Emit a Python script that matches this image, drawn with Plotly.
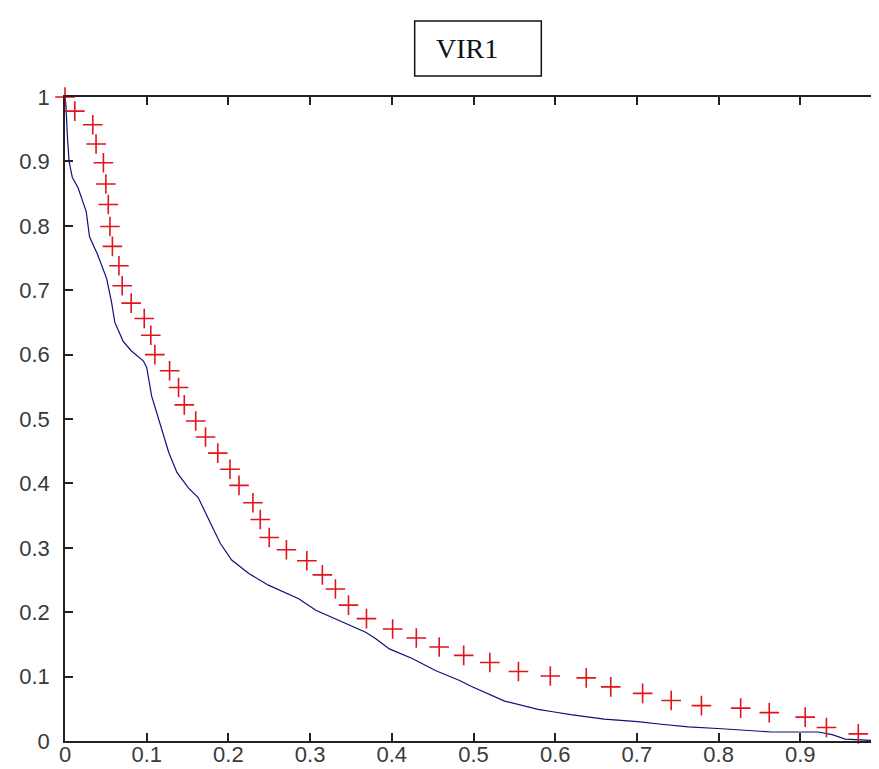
import plotly.graph_objects as go

# Red "+" markers
red_x = [0, 0.012, 0.034, 0.038, 0.047, 0.050, 0.053, 0.055, 0.058, 0.066,
         0.070, 0.081, 0.097, 0.105, 0.110, 0.128, 0.139, 0.146, 0.160, 0.172,
         0.187, 0.202, 0.213, 0.230, 0.239, 0.250, 0.271, 0.296, 0.315, 0.331,
         0.347, 0.369, 0.401, 0.430, 0.458, 0.488, 0.520, 0.555, 0.594, 0.638,
         0.668, 0.707, 0.742, 0.779, 0.827, 0.862, 0.906, 0.932, 0.971]
red_y = [1.0, 0.978, 0.957, 0.927, 0.898, 0.865, 0.833, 0.799, 0.768, 0.738,
         0.707, 0.680, 0.656, 0.630, 0.600, 0.575, 0.549, 0.522, 0.497, 0.472,
         0.447, 0.422, 0.397, 0.370, 0.344, 0.316, 0.297, 0.280, 0.258, 0.236,
         0.211, 0.190, 0.174, 0.160, 0.146, 0.133, 0.122, 0.108, 0.101, 0.098,
         0.084, 0.074, 0.063, 0.055, 0.051, 0.044, 0.037, 0.021, 0.011]

# Blue line
blue_x = [0, 0.001, 0.003, 0.005, 0.009, 0.016, 0.026, 0.030, 0.040, 0.051,
          0.057, 0.061, 0.071, 0.081, 0.096, 0.100, 0.106, 0.116, 0.127, 0.137,
          0.151, 0.163, 0.176, 0.190, 0.204, 0.225, 0.249, 0.286, 0.307, 0.331,
          0.368, 0.380, 0.397, 0.425, 0.454, 0.483, 0.497, 0.538, 0.579, 0.599,
          0.619, 0.660, 0.701, 0.730, 0.763, 0.804, 0.840, 0.865, 0.922, 0.939,
          0.955, 0.984, 1.0]
blue_y = [1.0, 0.99, 0.937, 0.900, 0.875, 0.859, 0.822, 0.783, 0.755, 0.718,
          0.681, 0.650, 0.621, 0.606, 0.590, 0.580, 0.536, 0.495, 0.448, 0.417,
          0.393, 0.378, 0.344, 0.307, 0.281, 0.260, 0.242, 0.221, 0.203, 0.190,
          0.169, 0.159, 0.143, 0.128, 0.109, 0.094, 0.085, 0.062, 0.049, 0.045,
          0.041, 0.034, 0.030, 0.026, 0.022, 0.019, 0.016, 0.014, 0.014, 0.010,
          0.003, 0.001, 0.0]

title_text = "VIR1"
tick_vals = [i / 10 for i in range(11)]
tick_text = ["0", "0.1", "0.2", "0.3", "0.4", "0.5", "0.6", "0.7", "0.8", "0.9", "1"]

fig = go.Figure()
fig.add_trace(go.Scatter(x=blue_x, y=blue_y, mode="lines",
                         line=dict(color="#10107a", width=1.2),
                         showlegend=False, cliponaxis=False))
fig.add_trace(go.Scatter(x=red_x, y=red_y, mode="markers",
                         marker=dict(symbol="cross-thin", size=14,
                                     line=dict(color="#e0141c", width=1.6)),
                         showlegend=False, cliponaxis=False))

axis_common = dict(
    range=[0, 1], tickmode="array", tickvals=tick_vals, ticktext=tick_text,
    showgrid=False, zeroline=False, showline=True, linecolor="#222",
    linewidth=1.5, mirror="ticks", ticks="inside", ticklen=8, tickwidth=1.5,
    tickcolor="#222", automargin=False, ticklabeloverflow="allow",
    tickfont=dict(family="Liberation Sans, Arial", size=22, color="#3a3a3a"),
)
fig.update_xaxes(**axis_common, ticklabelstandoff=-7)
fig.update_yaxes(**axis_common, ticklabelstandoff=9)

fig.add_shape(type="rect", xref="paper", yref="paper",
              x0=0.428, x1=0.583, y0=1.0326, y1=1.118,
              line=dict(color="#111", width=1.5), fillcolor="white")
fig.add_annotation(text=title_text, xref="paper", yref="paper",
                   x=0.492, y=1.076, showarrow=False,
                   xanchor="center", yanchor="middle",
                   font=dict(family="Liberation Serif, Times New Roman", size=28, color="#111"))

fig.update_layout(width=879, height=769,
                  margin=dict(l=57, r=5, t=89, b=36),
                  paper_bgcolor="white", plot_bgcolor="white")

fig.write_html("out.html")
